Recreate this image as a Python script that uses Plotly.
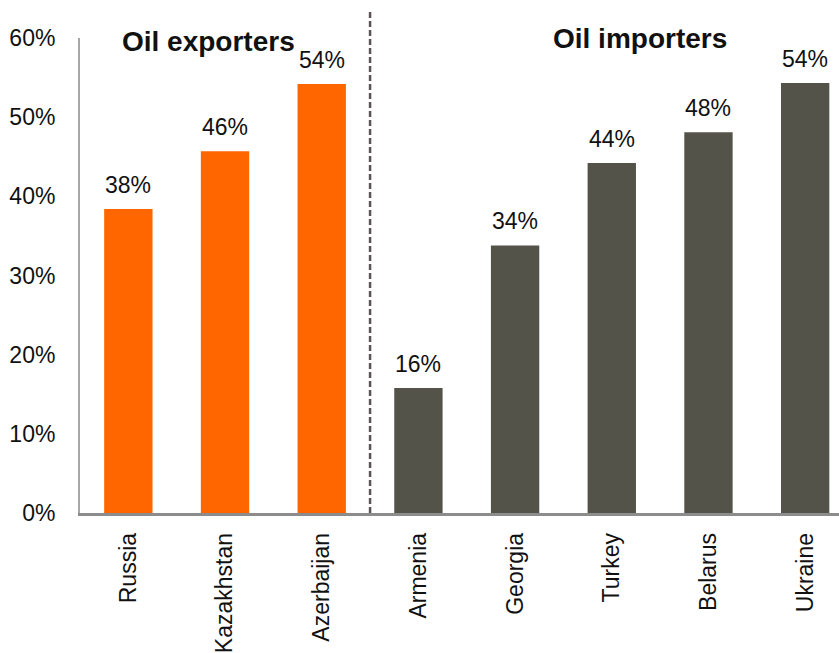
import plotly.graph_objects as go

# Share values by country, two groups split by the dashed divider
exporters = ["Russia", "Kazakhstan", "Azerbaijan"]
importers = ["Armenia", "Georgia", "Turkey", "Belarus", "Ukraine"]
exporter_values = [0.384, 0.457, 0.542]
importer_values = [0.158, 0.338, 0.442, 0.481, 0.543]
y_ticks = [0, 0.1, 0.2, 0.3, 0.4, 0.5, 0.6]
y_tick_labels = ["0%", "10%", "20%", "30%", "40%", "50%", "60%"]
group_titles = ["Oil exporters", "Oil importers"]

ORANGE = "#FF6600"
DARK = "#54534A"
FONT = "Liberation Sans, Arial, sans-serif"

categories = exporters + importers
values = exporter_values + importer_values
colors = [ORANGE] * len(exporters) + [DARK] * len(importers)

fig = go.Figure()
fig.add_trace(go.Bar(
    x=categories, y=values, marker=dict(color=colors, line=dict(width=0)),
    width=0.5, hoverinfo="skip",
))

# value labels above each bar
for c, v in zip(categories, values):
    fig.add_annotation(
        x=c, y=v, text=f"{v:.0%}", showarrow=False, yanchor="bottom",
        yshift=9, font=dict(family=FONT, size=23, color="#111111"),
    )

# group headings
fig.add_annotation(x=0.83, y=0.595, xref="x", yref="y", text=f"<b>{group_titles[0]}</b>",
                   showarrow=False, font=dict(family=FONT, size=28, color="#111111"))
fig.add_annotation(x=5.29, y=0.60, xref="x", yref="y", text=f"<b>{group_titles[1]}</b>",
                   showarrow=False, font=dict(family=FONT, size=28, color="#111111"))

# dashed divider between exporters and importers
fig.add_shape(type="line", x0=2.5, x1=2.5, xref="x", y0=0, y1=1.057, yref="paper",
              line=dict(color="#5A5458", width=2.5, dash="6px,3px"))

fig.update_layout(
    width=839, height=653,
    margin=dict(l=80, r=0, t=38, b=138),
    paper_bgcolor="white", plot_bgcolor="white",
    showlegend=False,
    font=dict(family=FONT, size=23, color="#111111"),
    xaxis=dict(
        range=[-0.5, 7.35], tickangle=-90, showgrid=False, ticks="",
        showline=True, linecolor="#8C8C8C", linewidth=2.5,
        tickfont=dict(family=FONT, size=23, color="#111111"),
        ticklabelstandoff=8,
    ),
    yaxis=dict(
        range=[0, 0.6], tickvals=y_ticks, ticktext=y_tick_labels,
        showgrid=False, ticks="", zeroline=False,
        showline=True, linecolor="#A6A6A6", linewidth=2,
        tickfont=dict(family=FONT, size=23, color="#111111"),
        ticklabelstandoff=18,
    ),
)

fig.write_html("out.html")
